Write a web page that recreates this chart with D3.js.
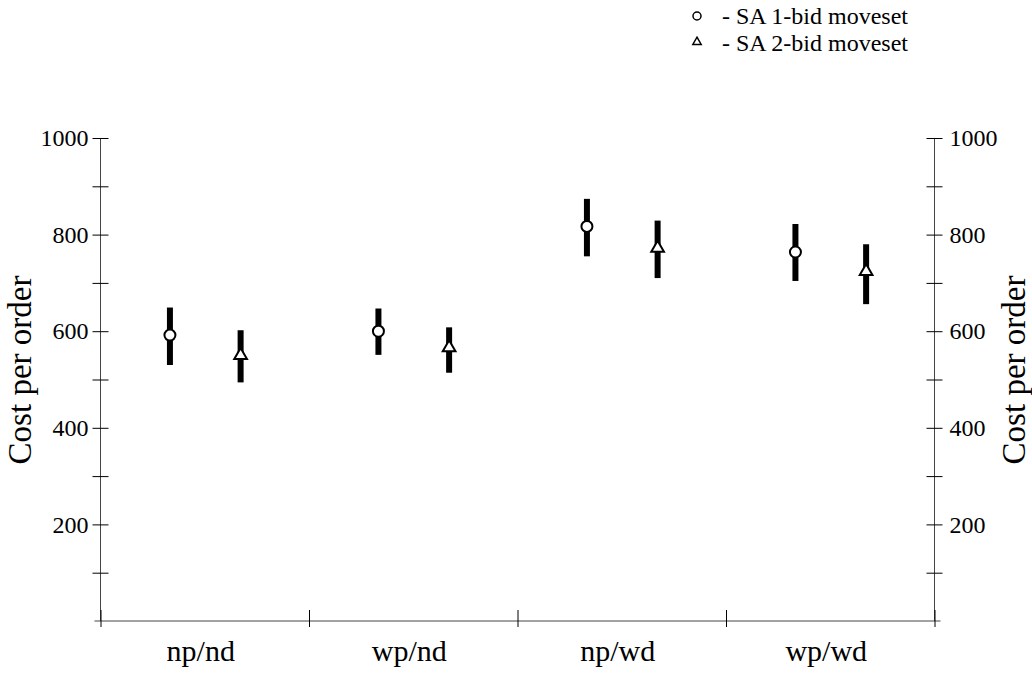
<!DOCTYPE html>
<html>
<head>
  <meta charset="utf-8">
  <title>Cost per order</title>
  <style>
    body { margin: 0; background: #fff; }
    svg text { font-family: "Liberation Serif", "Times New Roman", serif; fill: #000; }
    .domain { stroke: #444; }
    .tick line { stroke: #000; }
  </style>
</head>
<body>
  <div id="chart"></div>
  <script src="https://d3js.org/d3.v7.min.js"></script>
  <script>
    const categories = ["np/nd", "wp/nd", "np/wd", "wp/wd"];
    // SA 1-bid moveset (circle): mean, low, high
    const oneBidMean = [592, 600, 817, 764];
    const oneBidLow  = [530, 551, 755, 704];
    const oneBidHigh = [649, 647, 874, 822];
    // SA 2-bid moveset (triangle)
    const twoBidMean = [550, 566, 772, 724];
    const twoBidLow  = [494, 514, 710, 656];
    const twoBidHigh = [602, 608, 829, 780];
    const yMajor = [200, 400, 600, 800, 1000];
    const yMinor = [100, 300, 500, 700, 900];
    const legendLabels = ["- SA 1-bid moveset", "- SA 2-bid moveset"];

    const width = 1032, height = 673;
    const plotLeft = 100.5, plotRight = 934.5, plotTop = 138, plotBottom = 621;

    const svg = d3.select("#chart").append("svg")
      .attr("width", width).attr("height", height);

    const y = d3.scaleLinear().domain([0, 1000]).range([plotBottom, plotTop]);
    const xBand = d3.scaleBand().domain(categories).range([plotLeft, plotRight]);
    const xEdge = d3.scaleLinear().domain([0, categories.length]).range([plotLeft, plotRight]);

    // left axis
    const yl = svg.append("g").attr("transform", `translate(${plotLeft},0)`)
      .call(d3.axisLeft(y).tickValues(yMajor.concat(yMinor)).tickSize(8)
        .tickFormat(d => yMajor.includes(d) ? d : ""));
    yl.selectAll(".tick line").attr("x1", -8).attr("x2", 8);
    yl.selectAll(".tick text").attr("x", -12).style("font-size", "24px");
    yl.select(".domain").attr("d", `M0,${plotTop}V${plotBottom}`);

    // right axis
    const yr = svg.append("g").attr("transform", `translate(${plotRight},0)`)
      .call(d3.axisRight(y).tickValues(yMajor.concat(yMinor)).tickSize(8)
        .tickFormat(d => yMajor.includes(d) ? d : ""));
    yr.selectAll(".tick line").attr("x1", -8).attr("x2", 8);
    yr.selectAll(".tick text").attr("x", 15).style("font-size", "24px");
    yr.select(".domain").attr("d", `M0,${plotTop}V${plotBottom}`);

    // bottom axis
    const xa = svg.append("g").attr("transform", `translate(0,${plotBottom})`)
      .call(d3.axisBottom(xEdge).tickValues(d3.range(categories.length + 1)).tickFormat(""));
    xa.selectAll(".tick line").attr("y1", -11).attr("y2", 6);
    xa.select(".domain").attr("d", `M${plotLeft - 6},0H${plotRight + 6}`);

    svg.append("g").selectAll("text").data(categories).join("text")
      .attr("x", d => xBand(d) + xBand.bandwidth() / 2 - 4)
      .attr("y", 661)
      .attr("text-anchor", "middle")
      .style("font-size", "30px")
      .text(d => d);

    // axis titles
    svg.append("text")
      .attr("transform", `translate(31,370) rotate(-90)`)
      .attr("text-anchor", "middle").style("font-size", "33px")
      .text("Cost per order");
    svg.append("text")
      .attr("transform", `translate(1025,370) rotate(-90)`)
      .attr("text-anchor", "middle").style("font-size", "33px")
      .text("Cost per order");

    const series = [
      { mean: oneBidMean, low: oneBidLow, high: oneBidHigh, pos: 0.333, shape: "circle" },
      { mean: twoBidMean, low: twoBidLow, high: twoBidHigh, pos: 0.672, shape: "triangle" }
    ];

    const tri = d3.symbol().type(d3.symbolTriangle).size(70);

    series.forEach(s => {
      const g = svg.append("g");
      const px = c => xBand(c) + xBand.bandwidth() * s.pos;
      g.selectAll("line").data(categories).join("line")
        .attr("x1", px).attr("x2", px)
        .attr("y1", (c, i) => y(s.high[i]))
        .attr("y2", (c, i) => y(s.low[i]))
        .attr("stroke", "#000").attr("stroke-width", 6);
      if (s.shape === "circle") {
        g.selectAll("circle").data(categories).join("circle")
          .attr("cx", px).attr("cy", (c, i) => y(s.mean[i]))
          .attr("r", 5.5).attr("fill", "#fff").attr("stroke", "#000").attr("stroke-width", 2);
      } else {
        g.selectAll("path").data(categories).join("path")
          .attr("d", tri)
          .attr("transform", (c, i) => `translate(${px(c)},${y(s.mean[i])})`)
          .attr("fill", "#fff").attr("stroke", "#000").attr("stroke-width", 2);
      }
    });

    // legend
    const lg = svg.append("g");
    lg.append("circle").attr("cx", 697).attr("cy", 16).attr("r", 4)
      .attr("fill", "#fff").attr("stroke", "#000").attr("stroke-width", 1.5);
    lg.append("path").attr("d", d3.symbol().type(d3.symbolTriangle).size(30))
      .attr("transform", "translate(697,42)")
      .attr("fill", "#fff").attr("stroke", "#000").attr("stroke-width", 1.5);
    lg.selectAll("text").data(legendLabels).join("text")
      .attr("x", 722).attr("y", (d, i) => 24 + i * 27)
      .style("font-size", "24px")
      .text(d => d);
  </script>
</body>
</html>
